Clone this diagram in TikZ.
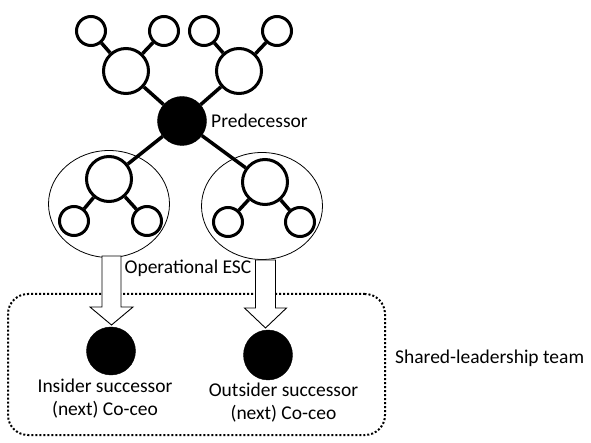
\documentclass[tikz,border=0pt]{standalone}
\usepackage{fontspec}
\setmainfont{Carlito}
\usetikzlibrary{shapes.geometric,calc}
\begin{document}
\begin{tikzpicture}[x=1pt,y=-1pt,
  smallc/.style={circle,draw,line width=3pt,minimum size=29pt,inner sep=0pt},
  midc/.style={circle,draw,line width=3pt,minimum size=45pt,inner sep=0pt},
  blackc/.style={circle,draw,fill=black,minimum size=49pt,inner sep=0pt},
  grp/.style={ellipse,draw,line width=0.8pt,minimum width=121pt,minimum height=107pt,inner sep=0pt},
  tie/.style={line width=3.5pt},
  hollow/.style={draw,fill=white,line width=0.9pt,line join=miter},
  teambox/.style={draw,line width=2pt,dash pattern=on 2pt off 2pt,rounded corners=20pt,inner sep=0pt},
  lbl/.style={font=\fontsize{19.5}{23.4}\selectfont,inner sep=0pt,align=center}]
\useasboundingbox (0,0) rectangle (591,443);
% groups (ellipses)
\node[grp] (g1) at (109,204) {};
\node[grp] (g2) at (262,206) {};
% team box
\node[teambox,minimum width=377pt,minimum height=141pt] (team) at (196.5,364.5) {};
% top tree
\node[smallc] (s1) at (91,31) {};
\node[smallc] (s2) at (164,31) {};
\node[smallc] (s3) at (204,31) {};
\node[smallc] (s4) at (277,31) {};
\node[midc] (m1) at (126,71) {};
\node[midc] (m2) at (239,71) {};
\node[blackc] (p) at (182,121) {};
% lower trees
\node[midc] (l1) at (109,179) {};
\node[smallc] (l1a) at (74,221) {};
\node[smallc] (l1b) at (147,221) {};
\node[midc] (r1) at (265,182) {};
\node[smallc] (r1a) at (228,222) {};
\node[smallc] (r1b) at (300,222) {};
% successors
\node[blackc,minimum width=49pt,minimum height=48pt,ellipse] (ins) at (111,351) {};
\node[blackc,minimum width=49pt,minimum height=50pt,ellipse] (out) at (268,355) {};
% connectors
\draw[tie] (m1) -- (s1);
\draw[tie] (m1) -- (s2);
\draw[tie] (m2) -- (s3);
\draw[tie] (m2) -- (s4);
\draw[tie] (p) -- (m1);
\draw[tie] (p) -- (m2);
\draw[tie] (p) -- (l1);
\draw[tie] (p) -- (r1);
\draw[tie] (l1) -- (l1a);
\draw[tie] (l1) -- (l1b);
\draw[tie] (r1) -- (r1a);
\draw[tie] (r1) -- (r1b);
% hollow arrows
\coordinate (a1) at (111.5,256);
\coordinate (t1) at (111.5,325);
\coordinate (a2) at (265.5,260);
\coordinate (t2) at (265.5,328);
\draw[hollow] ($(a1)+(-9.5,0)$) -- ($(t1)+(-9.5,-18)$) -- ($(t1)+(-21.5,-18)$) -- (t1)
  -- ($(t1)+(21.5,-18)$) -- ($(t1)+(9.5,-18)$) -- ($(a1)+(9.5,0)$) -- cycle;
\draw[hollow] ($(a2)+(-10,0)$) -- ($(t2)+(-10,-20)$) -- ($(t2)+(-21,-20)$) -- (t2)
  -- ($(t2)+(21,-20)$) -- ($(t2)+(10,-20)$) -- ($(a2)+(10,0)$) -- cycle;
% labels
\node[lbl,anchor=west] (pl) at (211,121) {Predecessor};
\node[lbl] (ol) at (188,268) {Operational ESC};
\node[lbl] (il) at (105,398.5) {Insider successor\\(next) Co-ceo};
\node[lbl] (utl) at (283.5,402.5) {Outsider successor\\(next) Co-ceo};
\node[lbl,anchor=west] (tl) at (395,358) {Shared-leadership team};
\end{tikzpicture}
\end{document}
